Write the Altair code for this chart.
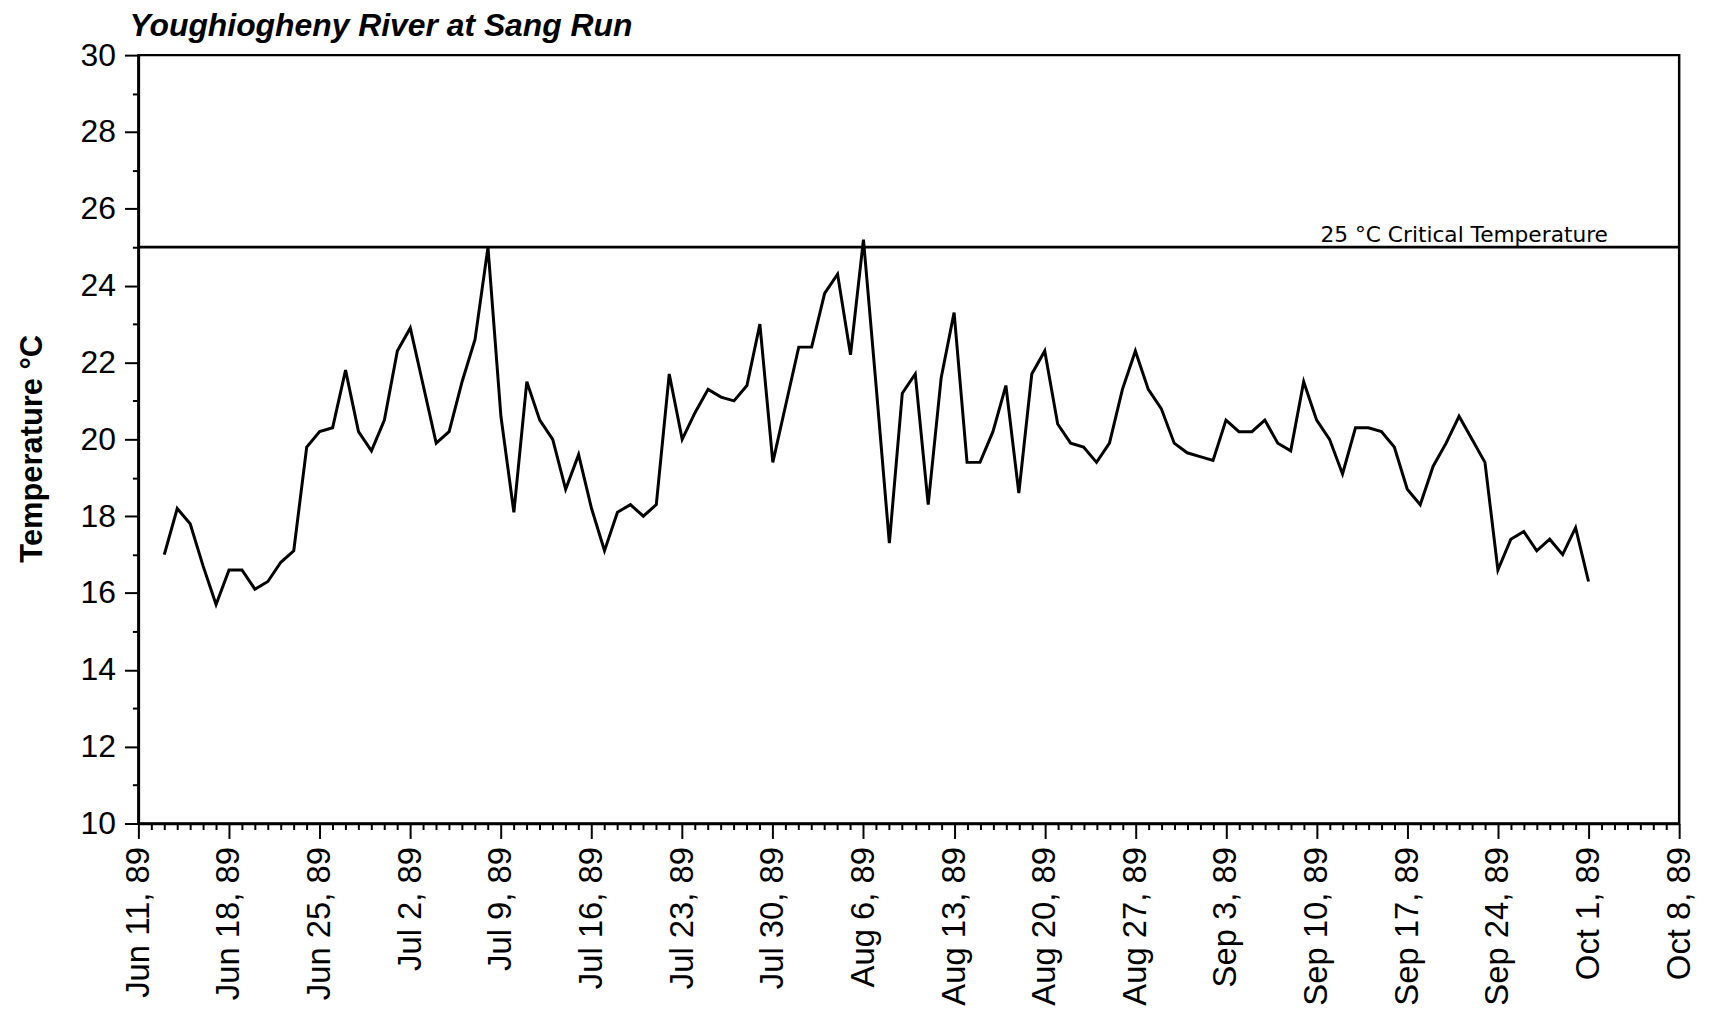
import altair as alt
import pandas as pd

# Daily water temperature (°C), Youghiogheny River at Sang Run, 1989
jun_temps = [17.0, 18.2, 17.8, 16.7, 15.7, 16.6, 16.6, 16.1, 16.3, 16.8, 17.1,
             19.8, 20.2, 20.3, 21.8, 20.2, 19.7, 20.5]                      # Jun 13 - Jun 30
jul_temps = [22.3, 22.9, 21.4, 19.9, 20.2, 21.5, 22.6, 25.0, 20.6, 18.1, 21.5,
             20.5, 20.0, 18.7, 19.6, 18.2, 17.1, 18.1, 18.3, 18.0, 18.3, 21.7,
             20.0, 20.7, 21.3, 21.1, 21.0, 21.4, 23.0, 19.4, 20.9]          # Jul 1 - Jul 31
aug_temps = [22.4, 22.4, 23.8, 24.3, 22.2, 25.2, 21.3, 17.3, 21.2, 21.7, 18.3,
             21.6, 23.3, 19.4, 19.4, 20.2, 21.4, 18.6, 21.7, 22.3, 20.4, 19.9,
             19.8, 19.4, 19.9, 21.3, 22.3, 21.3, 20.8, 19.9, 19.65]         # Aug 1 - Aug 31
sep_temps = [19.55, 19.45, 20.5, 20.2, 20.2, 20.5, 19.9, 19.7, 21.5, 20.5, 20.0,
             19.1, 20.3, 20.3, 20.2, 19.8, 18.7, 18.3, 19.3, 19.9, 20.6, 20.0,
             19.4, 16.6, 17.4, 17.6, 17.1, 17.4, 17.0, 17.7]                # Sep 1 - Sep 30
oct_temps = [16.3]                                                          # Oct 1

temps = jun_temps + jul_temps + aug_temps + sep_temps + oct_temps
dates = pd.date_range("1989-06-13", periods=len(temps), freq="D").strftime("%Y-%m-%d")

critical_value = [25]
critical_label = ["25 °C Critical Temperature"]
critical_label_date = ["1989-10-02T12:00:00"]

x_start = "1989-06-11"
x_end = "1989-10-08"
y_min, y_max = 10, 30

df = pd.DataFrame({"date": dates, "temp": temps})
df_rule = pd.DataFrame({"y": critical_value})
df_lab = pd.DataFrame({"date": critical_label_date, "y": critical_value, "label": critical_label})

# all daily tick positions (ms, UTC)
day_ticks = [int(pd.Timestamp(d, tz="UTC").value // 10**6)
             for d in pd.date_range(x_start, x_end, freq="D")]
y_ticks = list(range(y_min, y_max + 1))

FONT = "Liberation Sans"
W, H = 1548, 772

x_scale = alt.Scale(type="utc",
                    domain=[alt.DateTime(year=1989, month=6, date=11, utc=True),
                            alt.DateTime(year=1989, month=10, date=8, utc=True)])
y_scale = alt.Scale(domain=[y_min, y_max], nice=False, zero=False)

x_axis = alt.Axis(
    values=day_ticks, tickCount=500,
    labelExpr="utcday(datum.value) == 0 ? utcFormat(datum.value, '%b %-d, %y') : ''",
    labelAngle=270, labelAlign="right", labelBaseline="middle",
    labelFont=FONT, labelFontSize=33, labelColor="black", labelPadding=8,
    labelOverlap=False, labelFlush=False, labelBound=False,
    tickSize={"condition": {"test": "utcday(datum.value) == 0", "value": 15}, "value": 6},
    tickColor="black", tickWidth=2,
    domainColor="black", domainWidth=2.5,
    grid=False, title=None,
)
y_axis = alt.Axis(
    values=y_ticks, tickCount=100, format="d",
    labelExpr="datum.value % 2 == 0 ? format(datum.value, 'd') : ''",
    labelFont=FONT, labelFontSize=32, labelColor="black", labelPadding=9,
    labelOverlap=False, labelFlush=False, labelBound=False,
    tickSize={"condition": {"test": "datum.value % 2 == 0", "value": 14}, "value": 6},
    tickColor="black", tickWidth=2,
    domainColor="black", domainWidth=2.5,
    grid=False,
    title="Temperature °C", titleFont=FONT, titleFontSize=31, titleFontWeight="bold",
    titleColor="black", titleAngle=270, titleAlign="center", titleBaseline="middle",
    titleX=-106, titleY=H / 2 + 9,
)

line = alt.Chart(df).mark_line(color="black", strokeWidth=3, strokeJoin="miter").encode(
    x=alt.X("date:T", scale=x_scale, axis=x_axis),
    y=alt.Y("temp:Q", scale=y_scale, axis=y_axis),
)

rule = alt.Chart(df_rule).mark_rule(color="black", strokeWidth=2.8).encode(
    y=alt.Y("y:Q", scale=y_scale)
)

label = alt.Chart(df_lab).mark_text(
    align="right", baseline="alphabetic", dy=-5, font="DejaVu Sans", fontSize=21.8, color="black"
).encode(
    x=alt.X("date:T", scale=x_scale),
    y=alt.Y("y:Q", scale=y_scale),
    text="label:N",
)

chart = alt.layer(line, rule, label).properties(
    width=W, height=H,
    background="white",
    title=alt.TitleParams(
        "Youghiogheny River at Sang Run",
        anchor="start", frame="group", font=FONT, fontSize=32,
        fontWeight="bold", fontStyle="italic", color="black",
        dx=-9, offset=-4,
    ),
    autosize=alt.AutoSizeParams(type="none"),
    padding={"left": 131, "top": 45, "right": 36, "bottom": 186},
).configure_view(
    stroke="black", strokeWidth=2.5, strokeOpacity=1
)

chart.save("out.html", embed_options={"renderer": "svg", "actions": False})
